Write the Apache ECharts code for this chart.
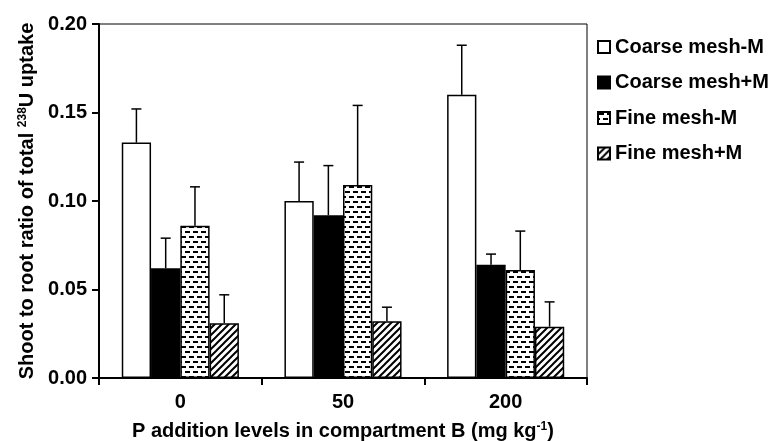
<!DOCTYPE html>
<html>
<head>
<meta charset="utf-8">
<script src="https://cdn.jsdelivr.net/npm/echarts@6/dist/echarts.min.js"></script>
<style>
html,body{margin:0;padding:0;background:#fff;}
#chart{width:769px;height:441px;}
</style>
</head>
<body>
<div id="chart"></div>
<script>
// ---- data ----
const categories = ['0', '50', '200'];
const seriesNames = ['Coarse mesh-M', 'Coarse mesh+M', 'Fine mesh-M', 'Fine mesh+M'];
const coarseMinus = [0.133, 0.100, 0.160];
const coarsePlus = [0.062, 0.092, 0.064];
const fineMinus = [0.086, 0.109, 0.061];
const finePlus = [0.031, 0.032, 0.029];
const coarseMinusErr = [0.019, 0.022, 0.028];
const coarsePlusErr = [0.017, 0.028, 0.006];
const fineMinusErr = [0.022, 0.045, 0.022];
const finePlusErr = [0.016, 0.008, 0.014];
const yTicks = ['0.00', '0.05', '0.10', '0.15', '0.20'];

const values = [coarseMinus, coarsePlus, fineMinus, finePlus];
const errors = [coarseMinusErr, coarsePlusErr, fineMinusErr, finePlusErr];

// ---- patterns ----
function dashPattern() {
  const c = document.createElement('canvas');
  c.width = 8; c.height = 10;
  const g = c.getContext('2d');
  g.fillStyle = '#fff'; g.fillRect(0, 0, 8, 10);
  g.fillStyle = '#000';
  g.fillRect(1, 1, 5, 2);
  g.fillRect(5, 6, 5, 2);
  g.fillRect(-3, 6, 5, 2);
  return c;
}
function hatchPattern() {
  const s = 7;
  const c = document.createElement('canvas');
  c.width = s; c.height = s;
  const g = c.getContext('2d');
  g.fillStyle = '#fff'; g.fillRect(0, 0, s, s);
  g.strokeStyle = '#000'; g.lineWidth = 2;
  g.beginPath();
  g.moveTo(-1, s + 1); g.lineTo(s + 1, -1);
  g.moveTo(-1, 1); g.lineTo(1, -1);
  g.moveTo(s - 1, s + 1); g.lineTo(s + 1, s - 1);
  g.stroke();
  return c;
}
const fills = [
  '#ffffff',
  '#000000',
  { image: dashPattern(), repeat: 'repeat' },
  { image: hatchPattern(), repeat: 'repeat' }
];

const FONT = "'Liberation Sans', Arial, sans-serif";
const CAT_GAP = 0.28;

const chart = echarts.init(document.getElementById('chart'), null, { renderer: 'canvas' });

const series = [];
values.forEach((vals, i) => {
  series.push({
    name: seriesNames[i],
    type: 'bar',
    data: vals,
    barGap: '0%',
    barCategoryGap: '28%',
    itemStyle: { color: fills[i], borderColor: '#000', borderWidth: 1.5 },
    emphasis: { disabled: true },
    z: 2
  });
});
values.forEach((vals, i) => {
  series.push({
    name: seriesNames[i] + ' err',
    type: 'custom',
    data: vals.map((v, k) => [k, v, v + errors[i][k]]),
    z: 3,
    silent: true,
    renderItem: function (params, api) {
      const base = api.coord([api.value(0), api.value(1)]);
      const top = api.coord([api.value(0), api.value(2)]);
      const band = api.size([1, 0])[0];
      const bw = band * (1 - CAT_GAP) / 4;
      const cx = base[0] + (i - 1.5) * bw;
      return {
        type: 'group',
        children: [
          { type: 'line', shape: { x1: cx, y1: base[1], x2: cx, y2: top[1] }, style: { stroke: '#000', lineWidth: 1.5 } },
          { type: 'line', shape: { x1: cx - 5, y1: top[1], x2: cx + 5, y2: top[1] }, style: { stroke: '#000', lineWidth: 1.5 } }
        ]
      };
    }
  });
});

chart.setOption({
  animation: false,
  backgroundColor: '#fff',
  textStyle: { fontFamily: FONT },
  grid: { left: 99, right: 182, top: 24, bottom: 63, show: true, borderColor: '#000', borderWidth: 1, containLabel: false, outerBoundsMode: 'none' },
  legend: {
    data: seriesNames.map(n => ({ name: n, icon: 'rect' })),
    orient: 'vertical',
    left: 597,
    top: 37,
    padding: 0,
    itemWidth: 12,
    itemHeight: 12,
    itemGap: 15.5,
    textStyle: { fontFamily: FONT, fontSize: 20, fontWeight: 'bold', color: '#000' }
  },
  xAxis: {
    type: 'category',
    data: categories,
    axisLine: { lineStyle: { color: '#000', width: 2 } },
    axisTick: { show: true, length: 7, lineStyle: { color: '#000', width: 2 } },
    axisLabel: { color: '#000', fontSize: 20, fontWeight: 'bold', margin: 14, fontFamily: FONT },
    name: 'P addition levels in compartment B (mg kg{sup|-1})',
    nameLocation: 'middle',
    nameGap: 43,
    nameTextStyle: {
      color: '#000', fontSize: 20, fontWeight: 'bold', fontFamily: FONT,
      rich: { sup: { fontSize: 12, fontWeight: 'bold', color: '#000', fontFamily: FONT, verticalAlign: 'top', padding: [0, 0, 8, 0] } }
    }
  },
  yAxis: {
    type: 'value',
    min: 0,
    max: 0.2,
    interval: 0.05,
    splitLine: { show: false },
    axisLine: { show: true, lineStyle: { color: '#000', width: 2 } },
    axisTick: { show: true, length: 7, lineStyle: { color: '#000', width: 2 } },
    axisLabel: {
      color: '#000', fontSize: 20, fontWeight: 'bold', margin: 12, fontFamily: FONT,
      formatter: function (v) { return yTicks[Math.round(v / 0.05)]; }
    },
    name: 'Shoot to root ratio of total {sup|238}U uptake',
    nameLocation: 'middle',
    nameGap: 61,
    nameRotate: 90,
    nameTextStyle: {
      color: '#000', fontSize: 20, fontWeight: 'bold', fontFamily: FONT,
      rich: { sup: { fontSize: 12, fontWeight: 'bold', color: '#000', fontFamily: FONT, verticalAlign: 'top', padding: [0, 0, 8, 0] } }
    }
  },
  series: series
});
</script>
</body>
</html>
